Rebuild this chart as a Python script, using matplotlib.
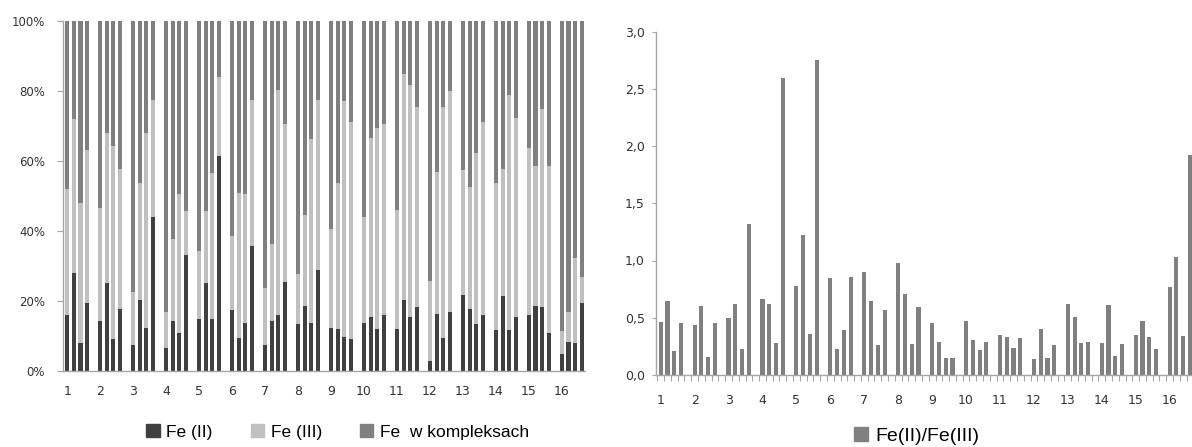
import numpy as np
import matplotlib
matplotlib.use("Agg")
import matplotlib.pyplot as plt
from matplotlib.patches import Patch
from matplotlib.ticker import FuncFormatter, FixedLocator

# ---------------- data ----------------
groups = [str(i) for i in range(1, 17)]
bars_per_group = 4
slots_per_group = 5

# Left chart: percentage shares (per group, 4 samples)
fe2_pct = [
    16.1, 28.0, 8.1, 19.4,
    14.2, 25.1, 9.2, 17.8,
    7.3, 20.4, 12.4, 43.9,
    6.6, 14.2, 11.0, 33.1,
    15.0, 25.1, 15.0, 61.4,
    17.4, 9.5, 13.8, 35.6,
    7.3, 14.2, 16.0, 25.5,
    13.5, 18.7, 13.8, 28.8,
    12.4, 12.0, 9.8, 9.2,
    13.8, 15.3, 12.0, 16.0,
    12.0, 20.4, 15.3, 18.2,
    3.0, 16.4, 9.5, 16.8,
    21.8, 17.8, 13.5, 16.0,
    11.6, 21.4, 11.6, 15.3,
    16.0, 18.6, 18.2, 11.0,
    4.8, 8.4, 8.0, 19.4,
]
fe3_pct = [
    35.9, 44.1, 39.9, 43.8,
    32.3, 42.9, 55.1, 40.0,
    15.2, 33.4, 55.6, 33.5,
    10.2, 23.6, 39.5, 12.7,
    19.2, 20.7, 41.7, 22.5,
    21.1, 41.4, 36.7, 41.8,
    16.3, 22.2, 64.3, 45.0,
    14.1, 26.0, 52.4, 48.6,
    28.2, 41.8, 67.2, 62.0,
    30.1, 51.2, 57.4, 54.5,
    34.1, 64.5, 66.4, 57.3,
    22.7, 40.6, 66.0, 63.1,
    35.6, 34.9, 48.7, 55.2,
    42.2, 36.4, 67.2, 57.1,
    47.6, 39.9, 56.7, 47.5,
    6.5, 8.4, 24.4, 7.5,
]
complex_pct = [100 - a - b for a, b in zip(fe2_pct, fe3_pct)]

# Right chart: Fe(II)/Fe(III) ratio
ratio = [
    0.46, 0.65, 0.21, 0.45,
    0.44, 0.60, 0.16, 0.45,
    0.50, 0.62, 0.23, 1.32,
    0.66, 0.62, 0.28, 2.59,
    0.78, 1.22, 0.36, 2.75,
    0.85, 0.23, 0.39, 0.86,
    0.90, 0.65, 0.26, 0.57,
    0.98, 0.71, 0.27, 0.59,
    0.45, 0.29, 0.15, 0.15,
    0.47, 0.31, 0.22, 0.29,
    0.35, 0.33, 0.24, 0.32,
    0.14, 0.40, 0.15, 0.26,
    0.62, 0.51, 0.28, 0.29,
    0.28, 0.61, 0.17, 0.27,
    0.35, 0.47, 0.33, 0.23,
    0.77, 1.03, 0.34, 1.92,
]

labels_left = ["Fe (II)", "Fe (III)", "Fe  w kompleksach"]
label_right = "Fe(II)/Fe(III)"

# ---------------- styling ----------------
c_fe2 = "#404040"
c_fe3 = "#c0c0c0"
c_cpx = "#808080"
c_ratio = "#808080"
spine_c = "#a6a6a6"
txt_c = "#333333"
legend_font = ["Liberation Sans Narrow", "Liberation Sans", "DejaVu Sans"]

n_groups = len(groups)
pos = np.array([g * slots_per_group + j for g in range(n_groups) for j in range(bars_per_group)])
label_pos = np.arange(n_groups) * slots_per_group

fig = plt.figure(figsize=(11.92, 4.47), dpi=100)

# ---------- left: stacked 100% ----------
axL = fig.add_axes([63 / 1192, 1 - 371 / 447, 522 / 1192, 350 / 447])
fe2 = np.array(fe2_pct)
fe3 = np.array(fe3_pct)
cpx = np.array(complex_pct)
w = 0.62
axL.bar(pos, fe2, width=w, color=c_fe2, linewidth=0)
axL.bar(pos, fe3, width=w, bottom=fe2, color=c_fe3, linewidth=0)
axL.bar(pos, cpx, width=w, bottom=fe2 + fe3, color=c_cpx, linewidth=0)
axL.set_xlim(-0.65, 78.5)
axL.set_ylim(0, 100)
axL.set_yticks(np.arange(0, 101, 20))
axL.yaxis.set_major_formatter(FuncFormatter(lambda v, p: f"{int(v)}%"))
axL.set_xticks(label_pos)
axL.set_xticklabels(groups)
for s in ["top", "right"]:
    axL.spines[s].set_visible(False)
for s in ["left", "bottom"]:
    axL.spines[s].set_color(spine_c)
    axL.spines[s].set_linewidth(1.0)
axL.tick_params(axis="y", length=4, color=spine_c, pad=9, labelsize=8.5, labelcolor=txt_c)
axL.tick_params(axis="x", length=0, pad=10, labelsize=9, labelcolor=txt_c)

handlesL = [Patch(color=c_fe2), Patch(color=c_fe3), Patch(color=c_cpx)]
fig.legend(handlesL, labels_left, loc="center", bbox_to_anchor=(338 / 1192, 1 - 432 / 447),
           ncol=3, frameon=False, prop={"family": legend_font, "size": 12.5},
           handlelength=0.75, handleheight=0.75, handletextpad=0.4, columnspacing=2.2)

# ---------- right: ratio ----------
axR = fig.add_axes([656 / 1192, 1 - 375 / 447, 536 / 1192, 343.5 / 447])
axR.bar(pos, ratio, width=w, color=c_ratio, linewidth=0)
axR.set_xlim(-0.69, 78.3)
axR.set_ylim(0, 3.0)
axR.set_yticks(np.arange(0, 3.01, 0.5))
axR.yaxis.set_major_formatter(FuncFormatter(lambda v, p: f"{v:.1f}".replace(".", ",")))
axR.set_xticks(label_pos)
axR.set_xticklabels(groups)
axR.xaxis.set_minor_locator(FixedLocator(np.arange(n_groups * slots_per_group) - 0.5))
for s in ["top", "right"]:
    axR.spines[s].set_visible(False)
for s in ["left", "bottom"]:
    axR.spines[s].set_color(spine_c)
    axR.spines[s].set_linewidth(1.0)
axR.tick_params(axis="y", length=3, color=spine_c, pad=5, labelsize=9, labelcolor=txt_c)
axR.tick_params(axis="x", which="major", length=0, pad=14, labelsize=9, labelcolor=txt_c)
axR.tick_params(axis="x", which="minor", length=4, color=spine_c, width=0.8)

fig.legend([Patch(color=c_ratio)], [label_right], loc="center",
           bbox_to_anchor=(917 / 1192, 1 - 436 / 447), frameon=False,
           prop={"family": legend_font, "size": 14},
           handlelength=0.7, handleheight=0.7, handletextpad=0.4)

fig.savefig("out.png", dpi=100)
